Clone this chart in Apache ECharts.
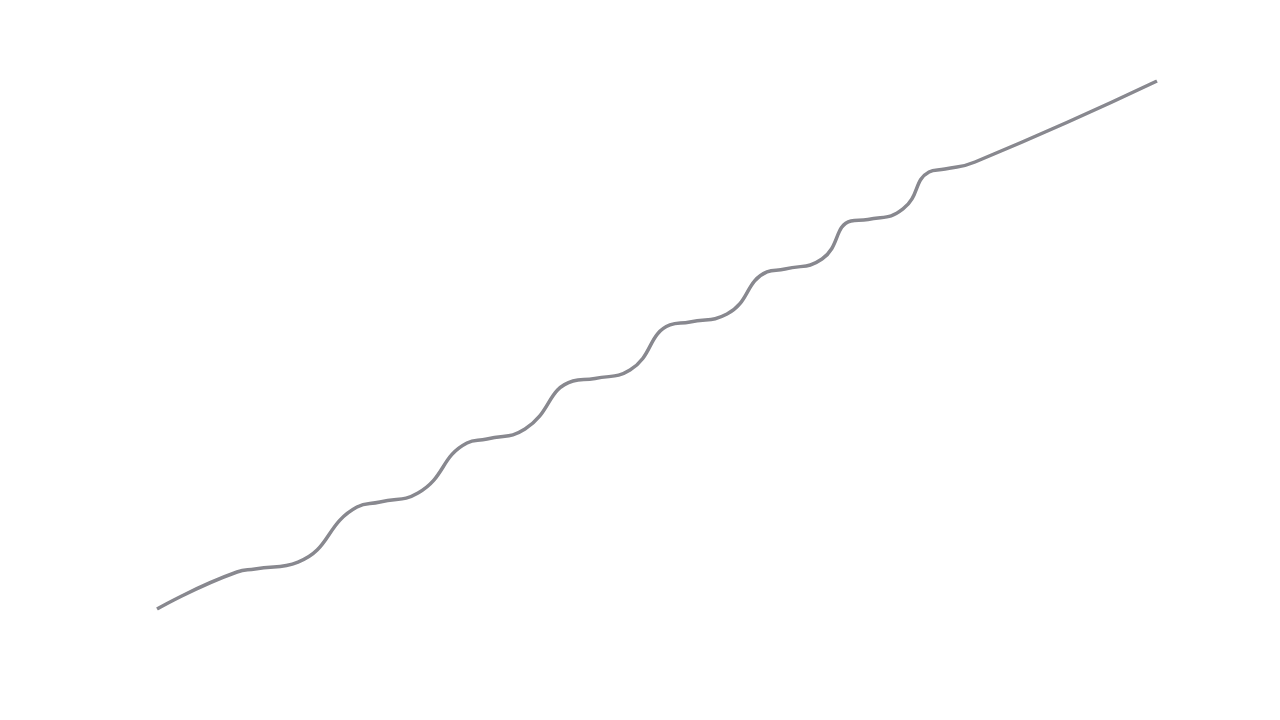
<!DOCTYPE html>
<html>
<head>
<meta charset="utf-8">
<script src="https://cdn.jsdelivr.net/npm/echarts@6/dist/echarts.min.js"></script>
<style>html,body{margin:0;padding:0;background:#fff;}#c{width:1280px;height:720px;}</style>
</head>
<body>
<div id="c"></div>
<script>
const xValues = [0, 8.0, 9.8, 14.1, 20.0, 22.3, 26.1, 31.0, 33.0, 36.8, 41.6, 43.8, 47.3, 51.3, 53.3, 57.0, 61.0, 62.8, 66.5, 69.4, 71.1, 74.6, 77.2, 78.8, 81.8, 100];
const yValues = [0, 7.01, 7.58, 8.90, 19.32, 20.27, 21.97, 31.44, 32.20, 34.09, 43.18, 43.66, 45.27, 53.79, 54.36, 55.87, 63.83, 64.39, 66.29, 73.48, 73.77, 75.76, 82.77, 83.33, 84.66, 100];

const chart = echarts.init(document.getElementById('c'));
chart.setOption({
  animation: false,
  grid: { left: 157, right: 123, top: 81, bottom: 111 },
  xAxis: { type: 'value', min: 0, max: 100, show: false },
  yAxis: { type: 'value', min: 0, max: 100, show: false },
  series: [{
    type: 'line',
    smooth: true,
    showSymbol: false,
    data: xValues.map((x, i) => [x, yValues[i]]),
    lineStyle: { color: '#88888f', width: 3.5 }
  }]
});
</script>
</body>
</html>
